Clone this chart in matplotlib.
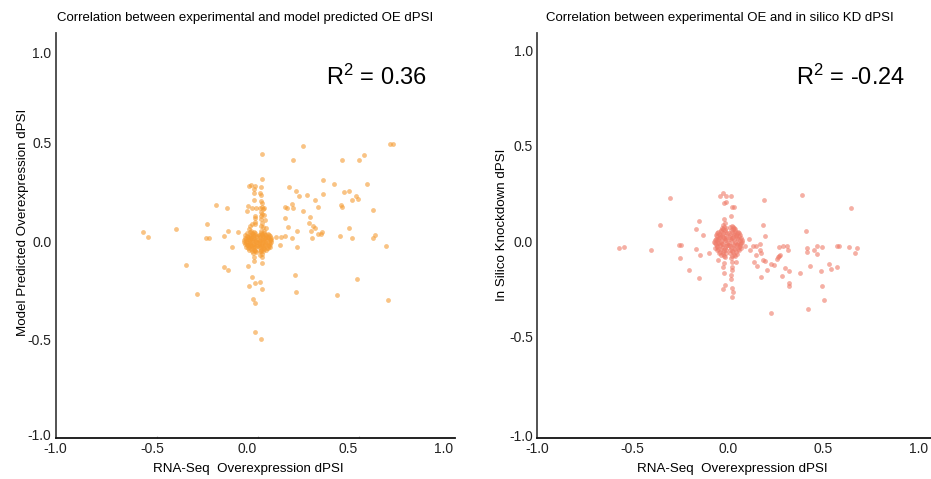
#!/usr/bin/env python
"""Scatter of experimental OE dPSI against model-predicted OE and in silico KD dPSI."""

import matplotlib
matplotlib.use("Agg")
import matplotlib.pyplot as plt

plt.rcParams["font.family"] = ["Liberation Sans", "DejaVu Sans"]
plt.rcParams["mathtext.fontset"] = "custom"
plt.rcParams["mathtext.rm"] = "Liberation Sans"

# --- left panel: RNA-Seq OE dPSI vs model predicted OE dPSI ---
oe_x = [
    0.655, 0.67, 0.225, 0.021, 0.172, 0.418, 0.528, 0.503, 0.023, 0.321, 0.379, 0.539,
    0.154, 0.187, 0.242, 0.205, 0.321, 0.429, 0.452, 0.283, 0.465, 0.486, 0.495, 0.298,
    0.41, 0.415, 0.569, 0.17, 0.135, 0.145, 0.172, 0.222, 0.135, 0.258, 0.255, 0.149,
    0.192, 0.273, 0.284, 0.263, 0.316, 0.296, 0.311, 0.266, 0.135, 0.114, 0.089, 0.169,
    0.111, 0.195, 0.452, 0.408, 0.465, 0.582, 0.569, 0.633, 0.185, 0.491, 0.187, 0.39,
    0.645,
    -0.569, -0.544, -0.403, -0.357, -0.303, -0.205, -0.152, -0.251, -0.254, -0.242,
    -0.169, -0.145, -0.099, -0.127, -0.165, -0.149,
    # central column, above the cluster
    -0.045, -0.032, -0.015, 0.015, -0.02, -0.02, 0.01, 0.018, -0.018, 0.018, 0.023,
    -0.048, -0.03, -0.011, -0.051, 0.01, 0.02, 0.025, 0.03, 0.018, 0.023,
    -0.015, -0.015, -0.015, -0.015, 0.015, 0.03, 0.018, 0.036, 0.023, 0.018,
    -0.04, -0.028, -0.042, 0.025, 0.04,
    # central column, below the cluster
    -0.016, -0.025, -0.01, 0.018, 0.023, 0.013, 0.02, -0.018, -0.02, 0.02, -0.05,
    -0.028, -0.041, -0.012, 0.011, 0.021, -0.023, -0.016, -0.015, 0.016,
]
oe_pred = [
    0.496, 0.496, 0.482, 0.445, 0.415, 0.415, 0.44, 0.415, 0.317, 0.31, 0.291, 0.293,
    0.276, 0.256, 0.237, 0.228, 0.242, 0.249, 0.257, 0.212, 0.212, 0.228, 0.215, 0.175,
    0.186, 0.175, 0.161, 0.191, 0.175, 0.17, 0.17, 0.152, 0.119, 0.124, 0.095, 0.073,
    0.053, 0.076, 0.066, 0.051, 0.048, 0.039, 0.038, 0.017, 0.025, 0.022, 0.022, 0.017,
    -0.017, -0.028, 0.07, 0.029, 0.017, 0.034, 0.017, -0.025, -0.173, -0.194, -0.26, -0.274,
    -0.296,
    0.048, 0.022, 0.064, -0.118, -0.267, 0.186, 0.168, 0.086, 0.017, 0.017,
    0.025, 0.051, 0.048, -0.027, -0.13, -0.147,
    0.279, 0.288, 0.283, 0.274, 0.266, 0.246, 0.246, 0.236, 0.212, 0.203, 0.195,
    0.178, 0.17, 0.17, 0.156, 0.17, 0.175, 0.165, 0.17, 0.148, 0.137,
    0.13, 0.12, 0.1, 0.087, 0.128, 0.135, 0.115, 0.106, 0.092, 0.076,
    0.08, 0.086, 0.064, 0.075, 0.07,
    -0.05, -0.058, -0.054, -0.05, -0.063, -0.07, -0.08, -0.08, -0.1, -0.108, -0.127,
    -0.183, -0.228, -0.213, -0.208, -0.245, -0.292, -0.316, -0.46, -0.497,
]

# dense cluster of near-zero events (four lobes around the origin)
oe_core_x = [
    -0.06, -0.05, -0.045, -0.04, -0.035, -0.03, -0.028, -0.025, -0.02, -0.018, -0.012,
    -0.01, -0.008, -0.055, -0.065, -0.038, -0.066, -0.062, -0.058, -0.052, -0.048, -0.043,
    -0.037, -0.033, -0.031, -0.022, -0.015, -0.014, -0.006, -0.024,
    0.06, 0.052, 0.045, 0.04, 0.035, 0.03, 0.027, 0.024, 0.018, 0.016, 0.012, 0.009,
    0.007, 0.056, 0.066, 0.022, 0.067, 0.063, 0.059, 0.053, 0.049, 0.043, 0.038, 0.034,
    0.032, 0.021, 0.014, 0.013, 0.005, 0.026,
    -0.063, -0.055, -0.05, -0.045, -0.04, -0.035, -0.03, -0.026, -0.02, -0.017, -0.012,
    -0.008, -0.006, -0.05, -0.03, -0.067, -0.06, -0.057, -0.048, -0.042, -0.038, -0.033,
    -0.025, -0.022, -0.015, -0.01, -0.005, -0.036, -0.018,
    0.063, 0.055, 0.048, 0.044, 0.038, 0.033, 0.028, 0.024, 0.018, 0.015, 0.011, 0.008,
    0.005, 0.052, 0.028, 0.067, 0.06, 0.057, 0.05, 0.041, 0.037, 0.031, 0.026, 0.021,
    0.013, 0.009, 0.004, 0.035, 0.017,
]
oe_core_pred = [
    0.01, 0.02, 0.008, 0.03, 0.015, 0.04, 0.005, 0.025, 0.045, 0.012, 0.032,
    0.02, 0.006, 0.025, 0.018, 0.045, 0.006, 0.03, 0.004, 0.04, 0.014, 0.022,
    0.006, 0.028, 0.05, 0.035, 0.042, 0.004, 0.028, 0.018,
    0.012, 0.022, 0.007, 0.032, 0.016, 0.042, 0.006, 0.026, 0.05, 0.014, 0.034, 0.021,
    0.006, 0.03, 0.016, 0.038, 0.008, 0.028, 0.005, 0.038, 0.015, 0.024, 0.005, 0.03,
    0.052, 0.033, 0.044, 0.005, 0.03, 0.017,
    -0.012, -0.02, -0.008, -0.03, -0.015, -0.038, -0.006, -0.024, -0.042, -0.012, -0.03,
    -0.018, -0.006, -0.034, -0.048, -0.005, -0.028, -0.01, -0.02, -0.042, -0.005, -0.026,
    -0.034, -0.012, -0.045, -0.005, -0.025, -0.018, -0.022,
    -0.014, -0.022, -0.007, -0.032, -0.016, -0.04, -0.006, -0.025, -0.044, -0.013, -0.031,
    -0.019, -0.007, -0.036, -0.05, -0.006, -0.03, -0.011, -0.021, -0.044, -0.004, -0.027,
    -0.036, -0.011, -0.047, -0.004, -0.027, -0.019, -0.023,
]

# --- right panel: RNA-Seq OE dPSI vs in silico KD dPSI ---
kd_x = [
    -0.025, -0.042, -0.012, 0.014, -0.304, 0.389, 0.187, -0.019, -0.01, 0.019, 0.03,
    0.646, 0.016, -0.356, -0.15, -0.166, -0.129, 0.183, 0.195, 0.408, -0.021, -0.014,
    -0.025, 0.027, -0.569, -0.545, -0.403, -0.257, -0.245, -0.253, -0.169, -0.145,
    -0.099, -0.206, -0.154, 0.087, 0.112, 0.114, 0.131, 0.145, 0.169, 0.168, 0.147,
    0.174, 0.136, 0.185, 0.194, 0.152, 0.223, 0.241, 0.206, 0.173, 0.255, 0.26, 0.267,
    0.274, 0.267, 0.286, 0.307, 0.316, 0.297, 0.318, 0.281, 0.321, 0.321, 0.225, 0.377,
    0.428, 0.414, 0.412, 0.452, 0.464, 0.464, 0.492, 0.487, 0.529, 0.539, 0.569, 0.494,
    0.504, 0.419, 0.569, 0.583, 0.632, 0.677, 0.663,
    # central column, below the cluster
    -0.051, -0.021, -0.025, -0.019, -0.016, -0.025,
    0.019, 0.042, 0.019, 0.019, 0.016, 0.014, 0.021, 0.025, 0.023,
]
kd_pred = [
    0.253, 0.237, 0.236, 0.236, 0.227, 0.242, 0.215, 0.2, 0.206, 0.176, 0.176,
    0.173, 0.132, 0.084, 0.105, 0.061, 0.03, 0.085, 0.026, 0.052, 0.114, 0.096,
    0.084, 0.075, -0.038, -0.031, -0.045, -0.021, -0.021, -0.087, -0.042, -0.072,
    -0.065, -0.152, -0.192, -0.026, 0.01, -0.047, -0.024, -0.028, -0.017, -0.049, -0.073,
    -0.061, -0.112, -0.1, -0.105, -0.131, -0.119, -0.126, -0.153, -0.19, -0.094, -0.085, -0.079,
    -0.072, -0.031, -0.026, -0.026, -0.049, -0.141, -0.155, -0.185, -0.218, -0.236, -0.375, -0.166,
    -0.132, -0.035, -0.058, -0.045, -0.068, -0.024, -0.033, -0.155, -0.119, -0.145, -0.138, -0.236,
    -0.31, -0.358, -0.024, -0.028, -0.031, -0.035, -0.061,
    -0.1, -0.117, -0.138, -0.166, -0.232, -0.253,
    -0.108, -0.108, -0.135, -0.152, -0.178, -0.2, -0.248, -0.269, -0.292,
]

kd_core_x = [
    -0.065, -0.058, -0.05, -0.048, -0.042, -0.036, -0.033, -0.03, -0.025, -0.022, -0.018,
    -0.012, -0.008, -0.012, -0.055, -0.02, -0.07, -0.063, -0.06, -0.053, -0.046, -0.04,
    -0.038, -0.028, -0.027, -0.016, -0.015, -0.005, -0.01, -0.032,
    0.066, 0.06, 0.052, 0.049, 0.043, 0.037, 0.034, 0.031, 0.026, 0.023, 0.019, 0.013,
    0.009, 0.013, 0.056, 0.021, 0.071, 0.064, 0.061, 0.054, 0.047, 0.041, 0.039, 0.029,
    0.028, 0.017, 0.016, 0.006, 0.011, 0.033,
    -0.068, -0.06, -0.052, -0.05, -0.044, -0.04, -0.035, -0.032, -0.028, -0.024, -0.02,
    -0.015, -0.012, -0.008, -0.006, -0.058, -0.072, -0.066, -0.062, -0.055, -0.047, -0.045,
    -0.038, -0.03, -0.025, -0.02, -0.017, -0.01, -0.005, -0.035,
    0.069, 0.061, 0.053, 0.051, 0.045, 0.041, 0.036, 0.033, 0.029, 0.025, 0.021, 0.016,
    0.013, 0.009, 0.007, 0.059, 0.073, 0.067, 0.063, 0.056, 0.048, 0.046, 0.039, 0.031,
    0.026, 0.021, 0.018, 0.011, 0.006, 0.036,
]
kd_core_pred = [
    0.012, 0.025, 0.01, 0.038, 0.022, 0.05, 0.006, 0.032, 0.062, 0.015, 0.045,
    0.028, 0.008, 0.07, 0.04, 0.075, 0.006, 0.03, 0.005, 0.045, 0.015, 0.03,
    0.06, 0.042, 0.02, 0.058, 0.005, 0.04, 0.018, 0.068,
    0.014, 0.027, 0.011, 0.04, 0.024, 0.052, 0.007, 0.034, 0.064, 0.016, 0.047,
    0.03, 0.009, 0.071, 0.042, 0.077, 0.007, 0.032, 0.006, 0.047, 0.016, 0.031,
    0.062, 0.044, 0.021, 0.06, 0.006, 0.042, 0.019, 0.07,
    -0.01, -0.025, -0.008, -0.04, -0.02, -0.055, -0.006, -0.032, -0.07, -0.015, -0.048,
    -0.085, -0.026, -0.06, -0.008, -0.045, -0.005, -0.035, -0.015, -0.03, -0.012, -0.065,
    -0.04, -0.018, -0.055, -0.078, -0.035, -0.045, -0.02, -0.075,
    -0.012, -0.027, -0.009, -0.042, -0.022, -0.057, -0.007, -0.034, -0.072, -0.016, -0.05,
    -0.087, -0.028, -0.062, -0.009, -0.047, -0.006, -0.037, -0.016, -0.032, -0.013, -0.067,
    -0.042, -0.019, -0.057, -0.08, -0.036, -0.047, -0.021, -0.077,
]

r2_oe = 0.36
r2_kd = -0.24

tick_vals = [-1.0, -0.5, 0.0, 0.5, 1.0]
tick_text = ["-1.0", "-0.5", "0.0", "0.5", "1.0"]
inner_ticks = [-0.5, 0.0, 0.5]


def _style(ax, xlabel_pos, ylabel_pos):
    for side in ("top", "right"):
        ax.spines[side].set_visible(False)
    ax.spines["left"].set_color("#444444")
    ax.spines["left"].set_linewidth(1.3)
    ax.spines["bottom"].set_color("#111111")
    ax.spines["bottom"].set_linewidth(1.3)
    ax.set_xticks(xlabel_pos)
    ax.set_xticklabels(tick_text)
    ax.set_yticks(ylabel_pos)
    ax.set_yticklabels(tick_text)
    ax.set_xticks(inner_ticks, minor=True)
    ax.set_yticks(inner_ticks, minor=True)
    ax.tick_params(which="major", length=0, labelsize=10, colors="#222222", pad=3)
    ax.tick_params(which="minor", direction="in", length=1.5, width=0.8, color="#bbbbbb")


def _scatter(ax, xs, ys, color):
    ax.scatter(xs, ys, s=12, color=color, alpha=0.6, linewidths=0)


fig = plt.figure(figsize=(9.31, 4.79), dpi=100)

ax1 = fig.add_axes([0.0598, 0.0856, 0.4289, 0.8455])
_scatter(ax1, oe_x, oe_pred, "#f59b32")
_scatter(ax1, oe_core_x, oe_core_pred, "#f59b32")
ax1.set_xlim(-1.0, 0.976)
ax1.set_ylim(-1.0, 1.059)
_style(ax1, [-1.0, -0.52, -0.055, 0.445, 0.92], [-0.981, -0.5, 0.0, 0.5, 0.959])
ax1.set_xlabel("RNA-Seq  Overexpression dPSI", fontsize=9.6)
ax1.set_ylabel("Model Predicted Overexpression dPSI", fontsize=9.6)
ax1.xaxis.set_label_coords(0.482, -0.062)
ax1.yaxis.set_label_coords(-0.068, 0.533)
ax1.text(0.474, 1.037, "Correlation between experimental and model predicted OE dPSI",
         transform=ax1.transAxes, ha="center", va="center", fontsize=9.5)
ax1.text(0.804, 0.891, r"$\mathregular{R^2}$ = %.2f" % r2_oe,
         transform=ax1.transAxes, ha="center", va="center", fontsize=17)

ax2 = fig.add_axes([0.5768, 0.0856, 0.4232, 0.8455])
_scatter(ax2, kd_x, kd_pred, "#ef7a68")
_scatter(ax2, kd_core_x, kd_core_pred, "#ef7a68")
ax2.set_xlim(-1.0, 1.063)
ax2.set_ylim(-1.031, 1.089)
_style(ax2, tick_vals, [-1.02, -0.5, 0.0, 0.5, 1.0])
ax2.set_xlabel("RNA-Seq  Overexpression dPSI", fontsize=9.6)
ax2.set_ylabel("In Silico Knockdown dPSI", fontsize=9.6)
ax2.xaxis.set_label_coords(0.495, -0.062)
ax2.yaxis.set_label_coords(-0.073, 0.526)
ax2.text(0.464, 1.037, "Correlation between experimental OE and in silico KD dPSI",
         transform=ax2.transAxes, ha="center", va="center", fontsize=9.5)
ax2.text(0.797, 0.891, r"$\mathregular{R^2}$ = %.2f" % r2_kd,
         transform=ax2.transAxes, ha="center", va="center", fontsize=17)

fig.savefig("out.png", dpi=100)
plt.close(fig)
